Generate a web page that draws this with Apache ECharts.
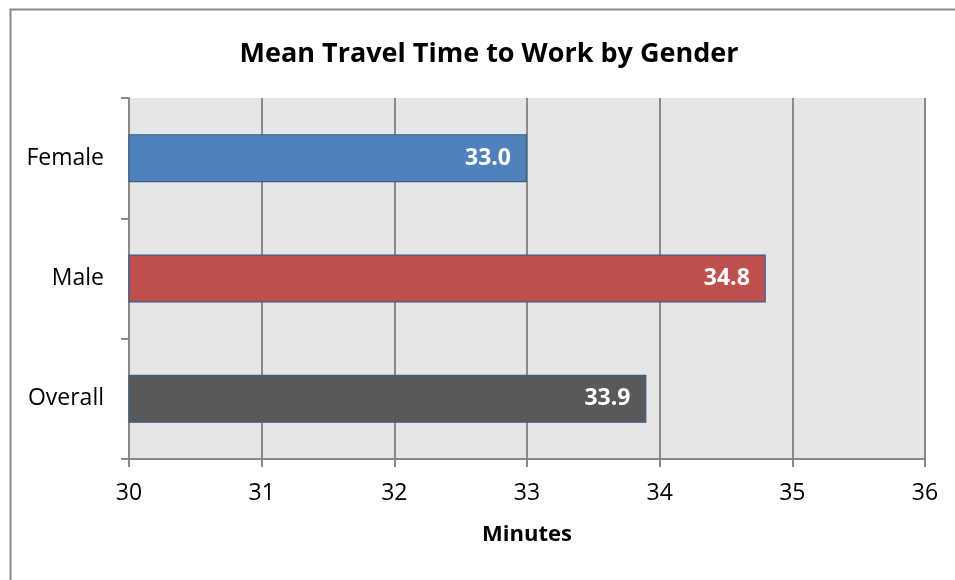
<!DOCTYPE html>
<html><head><meta charset="utf-8">
<script src="https://cdn.jsdelivr.net/npm/echarts@6/dist/echarts.min.js"></script>
<style>html,body{margin:0;padding:0;background:#fff}#c{width:955px;height:580px}</style>
</head><body><div id="c"></div>
<script>
var categories = ['Female', 'Male', 'Overall'];
var values = [33.0, 34.8, 33.9];
var barColors = ['#4f81bd', '#c0504d', '#595959'];
var xTicks = [30, 31, 32, 33, 34, 35, 36];
var titleText = 'Mean Travel Time to Work by Gender';
var xName = 'Minutes';

var chart = echarts.init(document.getElementById('c'));
var font = 'Open Sans, Liberation Sans, sans-serif';
chart.setOption({
  animation: false,
  backgroundColor: '#fff',
  graphic: [{ type: 'rect', left: 8, top: 7, shape: { width: 1000, height: 700 }, style: { fill: 'none', stroke: '#898989', lineWidth: 2 } }],
  title: { text: titleText, left: 484, textAlign: 'center', top: 36, textStyle: { fontFamily: font, fontSize: 27, fontWeight: 'bold', color: '#000' } },
  grid: { left: 129, right: 30, top: 98, bottom: 121, show: true, backgroundColor: '#e6e6e6', borderWidth: 0 },
  xAxis: {
    type: 'value', min: xTicks[0], max: xTicks[xTicks.length - 1], interval: 1,
    name: xName, nameLocation: 'middle', nameGap: 65,
    nameTextStyle: { fontFamily: font, fontSize: 22, fontWeight: 'bold', color: '#000' },
    axisLine: { show: true, lineStyle: { color: '#898989', width: 2 } },
    axisTick: { show: true, length: 8, lineStyle: { color: '#898989', width: 2 } },
    axisLabel: { fontFamily: font, fontSize: 23, color: '#000', margin: 23 },
    splitLine: { show: true, lineStyle: { color: '#898989', width: 2 } }
  },
  yAxis: {
    type: 'category', data: categories, inverse: true,
    axisLine: { show: true, lineStyle: { color: '#898989', width: 2 } },
    axisTick: { show: true, length: 8, lineStyle: { color: '#898989', width: 2 } },
    axisLabel: { fontFamily: font, fontSize: 23, color: '#000', margin: 25 },
    splitLine: { show: false }
  },
  series: [{
    type: 'bar', barWidth: 48,
    data: values.map(function (v, i) { return { value: v, itemStyle: { color: barColors[i] } }; }),
    itemStyle: { borderColor: '#385d8a', borderWidth: 1.2 },
    label: { show: true, position: 'insideRight', distance: 16, formatter: function (p) { return p.value.toFixed(1); }, fontFamily: font, fontSize: 23, fontWeight: 'bold', color: '#fff' }
  }]
});
</script></body></html>
